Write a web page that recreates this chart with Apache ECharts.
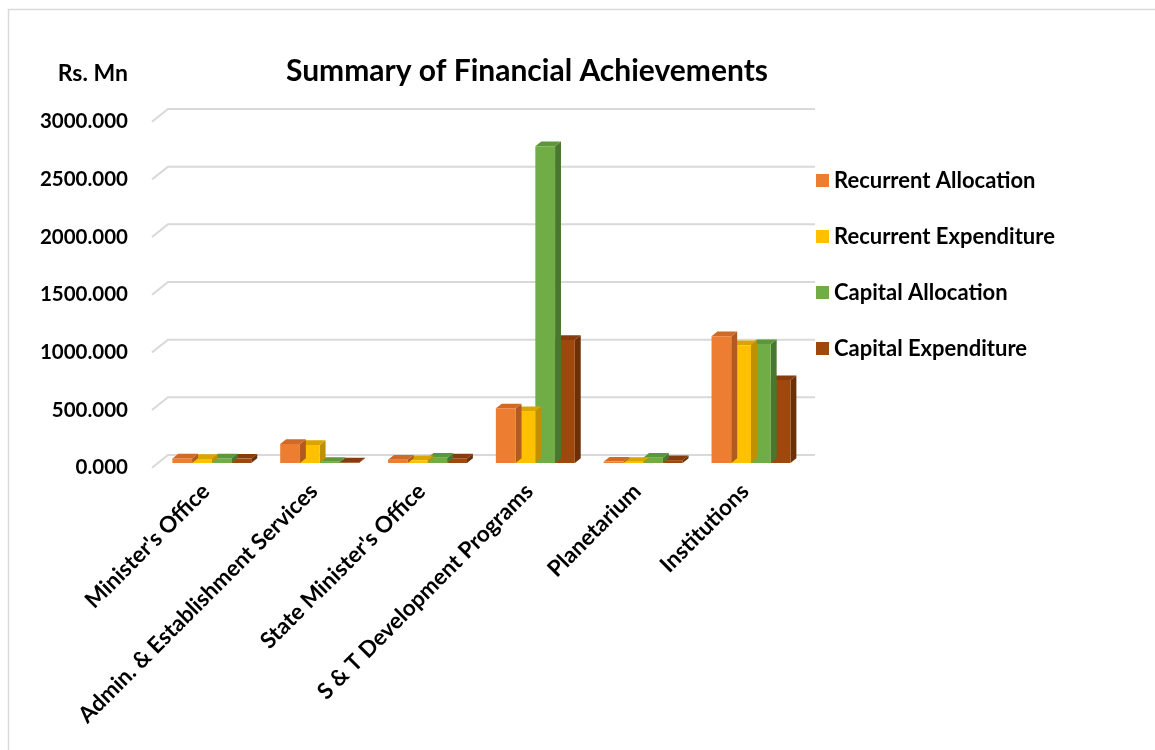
<!DOCTYPE html>
<html>
<head>
<meta charset="utf-8">
<script src="https://cdn.jsdelivr.net/npm/echarts@6/dist/echarts.min.js"></script>
<style>html,body{margin:0;padding:0;background:#fff;}#main{width:1155px;height:750px;}</style>
</head>
<body>
<div id="main"></div>
<script>
var categories = ["Minister's Office", "Admin. & Establishment Services", "State Minister's Office", "S & T Development Programs", "Planetarium", "Institutions"];
var recurrentAllocation = [40, 165, 28, 474, 12, 1100];
var recurrentExpenditure = [35, 156, 24, 450, 10, 1022];
var capitalAllocation = [40, 10, 45, 2747, 46, 1031];
var capitalExpenditure = [38, 5, 40, 1066, 25, 719];
var yTicks = [0, 500, 1000, 1500, 2000, 2500, 3000];
var seriesNames = ['Recurrent Allocation', 'Recurrent Expenditure', 'Capital Allocation', 'Capital Expenditure'];

var FONT = 'Lato';
var faces = [
  {front: '#ED7D31', top: '#CF6A27', side: '#B25A1F'},
  {front: '#FFC000', top: '#DBA500', side: '#BF9000'},
  {front: '#70AD47', top: '#5E973B', side: '#4A772F'},
  {front: '#9E480E', top: '#873C0B', side: '#6C3008'}
];
// depth vector (front plane -> back plane)
var DX = 16, DY = -12.7;
var F0 = 0.37, BD = 0.37; // bar front position & bar depth as fraction of depth

function barRender(si) {
  return function (params, api) {
    var ci = api.value(0), v = api.value(1);
    var p = api.coord([ci, v]);
    var p0 = api.coord([ci, 0]);
    var band = api.size([1, 0])[0];
    var bw = band * 0.183;
    var cx = p[0] + (si - 1.5) * bw + DX * F0;
    var x0 = cx - bw / 2, x1 = cx + bw / 2;
    var yt = p[1] + DY * F0, yb = p0[1] + DY * F0;
    var dx = DX * BD, dy = DY * BD;
    var f = faces[si];
    return {
      type: 'group',
      children: [
        {type: 'polygon', shape: {points: [[x1, yb], [x1 + dx, yb + dy], [x1 + dx, yt + dy], [x1, yt]]}, style: {fill: f.side}},
        {type: 'polygon', shape: {points: [[x0, yt], [x0 + dx, yt + dy], [x1 + dx, yt + dy], [x1, yt]]}, style: {fill: f.top}},
        {type: 'rect', shape: {x: x0, y: yt, width: bw, height: Math.max(yb - yt, 0)}, style: {fill: f.front}}
      ]
    };
  };
}

function gridRender(params, api) {
  var v = api.value(1);
  var y = api.coord([0, v])[1];
  var cs = params.coordSys;
  return {
    type: 'polyline',
    shape: {points: [[cs.x, y], [cs.x + DX, y + DY], [cs.x + cs.width + DX, y + DY]]},
    style: {stroke: '#D9D9D9', lineWidth: 2, fill: null}
  };
}

var allSeries = [recurrentAllocation, recurrentExpenditure, capitalAllocation, capitalExpenditure];
var series = [{
  type: 'custom',
  name: '_grid',
  renderItem: gridRender,
  data: yTicks.map(function (t) { return [0, t]; }),
  encode: {x: 0, y: 1},
  z: 1,
  silent: true
}];
allSeries.forEach(function (arr, si) {
  series.push({
    type: 'custom',
    name: seriesNames[si],
    renderItem: barRender(si),
    itemStyle: {color: faces[si].front},
    data: arr.map(function (v, i) { return [i, v]; }),
    encode: {x: 0, y: 1},
    z: 5 + (3 - si)
  });
});

var chart = echarts.init(document.getElementById('main'));
chart.setOption({
  backgroundColor: '#fff',
  animation: false,
  title: {
    text: 'Summary of Financial Achievements',
    left: 522, top: 51, textAlign: 'center',
    textStyle: {fontFamily: FONT, fontWeight: 'bold', fontSize: 30, color: '#000'}
  },
  graphic: [
    {type: 'rect', shape: {x: 8.5, y: 9.5, width: 1300, height: 900}, style: {fill: null, stroke: '#D9D9D9', lineWidth: 1.5}, silent: true},
    {type: 'text', x: 128, y: 74, style: {text: 'Rs. Mn', align: 'right', verticalAlign: 'middle', fontFamily: FONT, fontWeight: 'bold', fontSize: 23, fill: '#000'}}
  ],
  legend: {
    data: seriesNames,
    orient: 'vertical',
    left: 816, top: 168, padding: 0,
    icon: 'rect', itemWidth: 13, itemHeight: 13, itemGap: 31,
    textStyle: {fontFamily: FONT, fontWeight: 'bold', fontSize: 22, color: '#000', lineHeight: 25}
  },
  grid: {left: 152, right: 356, top: 121.7, bottom: 282.3, containLabel: false},
  xAxis: {
    type: 'category',
    data: categories,
    axisLine: {show: false},
    axisTick: {show: false},
    splitLine: {show: false},
    axisLabel: {interval: 0, rotate: 45, margin: 20, fontFamily: FONT, fontWeight: 'bold', fontSize: 22.5, color: '#000'}
  },
  yAxis: {
    type: 'value',
    min: 0, max: 3000, interval: 500,
    axisLine: {show: false},
    axisTick: {show: false},
    splitLine: {show: false},
    axisLabel: {margin: 24, fontFamily: FONT, fontWeight: 'bold', fontSize: 20.5, color: '#000',
      formatter: function (v) { return v.toFixed(3); }}
  },
  series: series
});
</script>
</body>
</html>
